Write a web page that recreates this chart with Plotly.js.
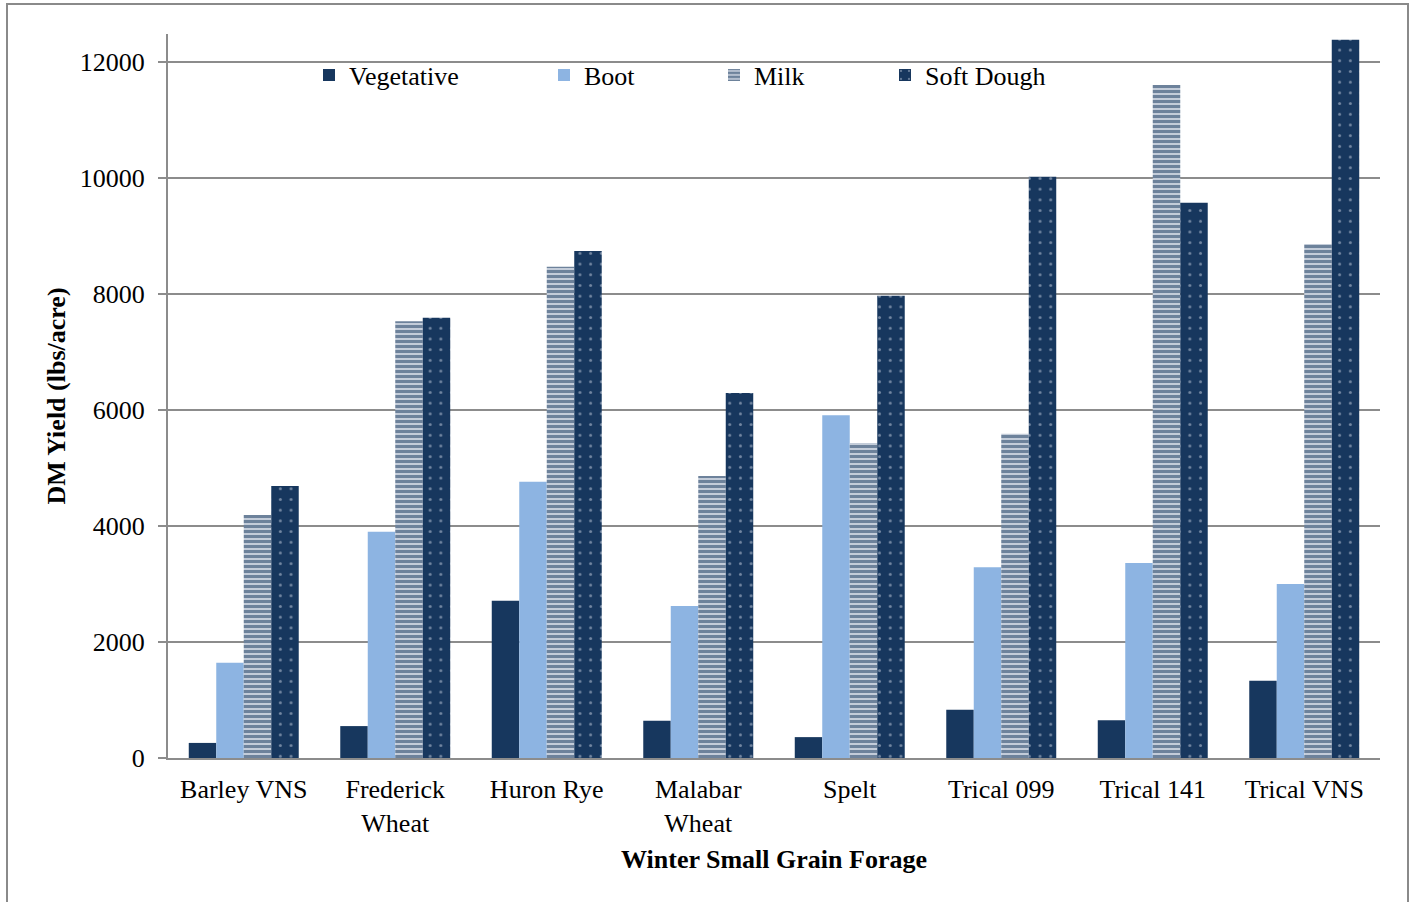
<!DOCTYPE html>
<html>
<head>
<meta charset="utf-8">
<script src="https://cdn.plot.ly/plotly-3.0.1.min.js"></script>
<style>html,body{margin:0;padding:0;background:#fff;}#chart{width:1413px;height:902px;}</style>
</head>
<body>
<div id="chart"></div>
<script>
var categories = ["Barley VNS", "Frederick<br>Wheat", "Huron Rye", "Malabar<br>Wheat", "Spelt", "Trical 099", "Trical 141", "Trical VNS"];
var seriesNames = ["Vegetative", "Boot", "Milk", "Soft Dough"];
var vegetative = [260, 550, 2710, 640, 360, 830, 650, 1330];
var boot = [1640, 3900, 4760, 2620, 5910, 3290, 3360, 3000];
var milk = [4190, 7530, 8470, 4860, 5430, 5590, 11600, 8860];
var softDough = [4690, 7590, 8740, 6290, 7970, 10020, 9570, 12380];
var yTicks = [0, 2000, 4000, 6000, 8000, 10000, 12000];

var FONT = "Liberation Serif, Times New Roman, serif";
var NAVY = "#17375E";
var GRID = "#8c8c8c";

// plot geometry (pixels) for legend placement
var L = 168, R = 1380, T = 34, B = 758;
function px(x) { return (x - L) / (R - L); }
function py(y) { return (B - y) / (B - T); }

var traces = [
  {type: "bar", name: seriesNames[0], x: categories, y: vegetative, legend: "legend",
   marker: {color: NAVY, line: {width: 0}}},
  {type: "bar", name: seriesNames[1], x: categories, y: boot, legend: "legend2",
   marker: {color: "#8DB4E2", line: {width: 0}}},
  {type: "bar", name: seriesNames[2], x: categories, y: milk, legend: "legend3",
   marker: {color: "#c3ccd9", line: {width: 0},
            pattern: {shape: "-", fgcolor: NAVY, bgcolor: "#c3ccd9", size: 5, solidity: 0.6, fillmode: "overlay"}}},
  {type: "bar", name: seriesNames[3], x: categories, y: softDough, legend: "legend4",
   marker: {color: NAVY, line: {width: 0},
            pattern: {shape: ".", fgcolor: "#d0d8e6", bgcolor: NAVY, size: 10.7, solidity: 0.06, fillmode: "overlay"}}}
];

function leg(xpix) {
  return {x: px(xpix), xanchor: "left", y: py(75), yanchor: "middle", orientation: "h",
          bgcolor: "rgba(0,0,0,0)", borderwidth: 0, font: {family: FONT, size: 26, color: "#000"},
          itemclick: false, itemdoubleclick: false};
}

var layout = {
  width: 1413, height: 902,
  margin: {l: L, r: 1413 - R, t: T, b: 902 - B, pad: 0},
  paper_bgcolor: "#ffffff", plot_bgcolor: "#ffffff",
  font: {family: FONT, size: 26, color: "#000"},
  barmode: "group", bargap: 0.274, bargroupgap: 0,
  showlegend: true,
  legend: leg(309), legend2: leg(544), legend3: leg(714), legend4: leg(885),
  xaxis: {
    type: "category",
    showline: true, linecolor: GRID, linewidth: 2,
    showgrid: false, ticks: "", tickfont: {family: FONT, size: 26, color: "#000"},
    ticklabelstandoff: 7,
    title: {text: "<b>Winter Small Grain Forage</b>", font: {family: FONT, size: 26, color: "#000"}, standoff: 13},
    automargin: false
  },
  yaxis: {
    range: [0, 12480], tickvals: yTicks, ticktext: yTicks.map(String),
    showline: true, linecolor: GRID, linewidth: 2,
    showgrid: true, gridcolor: GRID, gridwidth: 2,
    zeroline: false,
    ticks: "outside", ticklen: 8, tickwidth: 2, tickcolor: GRID,
    tickfont: {family: FONT, size: 26, color: "#000"},
    ticklabelstandoff: 8,
    title: {text: "<b>DM Yield (lbs/acre)</b>", font: {family: FONT, size: 26, color: "#000"}, standoff: 7},
    automargin: false
  },
  shapes: [{
    type: "rect", xref: "paper", yref: "paper",
    x0: px(7), x1: px(1408), y0: py(920), y1: py(4),
    line: {color: "#8a8a8a", width: 2}, fillcolor: "rgba(0,0,0,0)", layer: "below"
  }]
};

Plotly.newPlot("chart", traces, layout, {displayModeBar: false, staticPlot: true});
</script>
</body>
</html>
